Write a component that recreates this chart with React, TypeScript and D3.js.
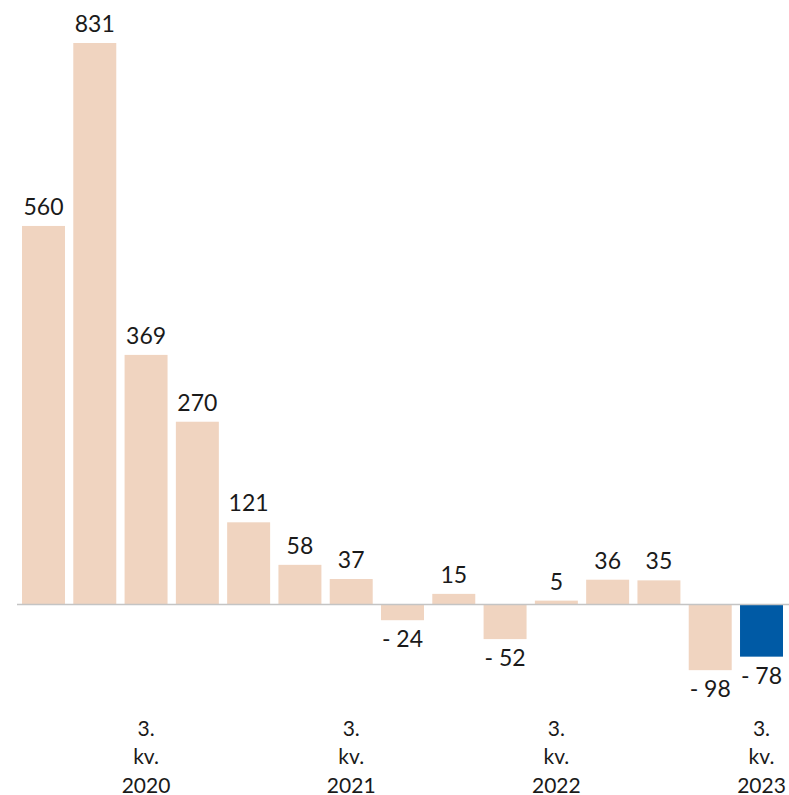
import React from "react";
import * as d3 from "d3";

const quarters = [
  "1. kv. 2020", "2. kv. 2020", "3. kv. 2020", "4. kv. 2020",
  "1. kv. 2021", "2. kv. 2021", "3. kv. 2021", "4. kv. 2021",
  "1. kv. 2022", "2. kv. 2022", "3. kv. 2022", "4. kv. 2022",
  "1. kv. 2023", "2. kv. 2023", "3. kv. 2023",
];
const values = [560, 831, 369, 270, 121, 58, 37, -24, 15, -52, 5, 36, 35, -98, -78];
const tickQuarters = ["3. kv. 2020", "3. kv. 2021", "3. kv. 2022", "3. kv. 2023"];
const highlight = "3. kv. 2023";

const W = 789;
const H = 795;
const FONT = "Lato, 'Open Sans', sans-serif";

export default function App() {
  const x = d3
    .scaleBand<string>()
    .domain(quarters)
    .range([17.85, 787.15])
    .paddingInner(0.162)
    .paddingOuter(0.081);
  const y = d3.scaleLinear().domain([0, 831]).range([604, 43]);

  const fmt = (v: number) => (v < 0 ? "- " + Math.abs(v) : String(v));

  return (
    <svg
      width={W}
      height={H}
      style={{ position: "absolute", left: 0, top: 0, background: "#fff" }}
      fontFamily={FONT}
    >
      {quarters.map((q, i) => {
        const v = values[i];
        const x0 = x(q)!;
        const y0 = Math.min(y(v), y(0));
        const h = Math.abs(y(v) - y(0));
        return (
          <g key={q}>
            <rect
              x={x0}
              y={y0}
              width={x.bandwidth()}
              height={h}
              fill={q === highlight ? "#005aa5" : "#f0d4c0"}
            />
            <text
              x={x0 + x.bandwidth() / 2}
              y={v >= 0 ? y(v) - 11 : y(v) + 27}
              textAnchor="middle"
              fontSize={23}
              fill="#1a1a1a"
            >
              {fmt(v)}
            </text>
          </g>
        );
      })}
      <line x1={17} x2={789} y1={y(0) + 0.5} y2={y(0) + 0.5} stroke="#c4c4c4" strokeWidth={1.5} />
      {tickQuarters.map((q) => {
        const cx = x(q)! + x.bandwidth() / 2;
        const parts = q.split(" ");
        const lines = [parts[0], parts[1], parts[2]];
        return (
          <text key={q} textAnchor="middle" fontSize={21} fill="#1a1a1a">
            {lines.map((t, j) => (
              <tspan key={j} x={cx} y={735.5 + j * 28.5}>
                {t}
              </tspan>
            ))}
          </text>
        );
      })}
    </svg>
  );
}
